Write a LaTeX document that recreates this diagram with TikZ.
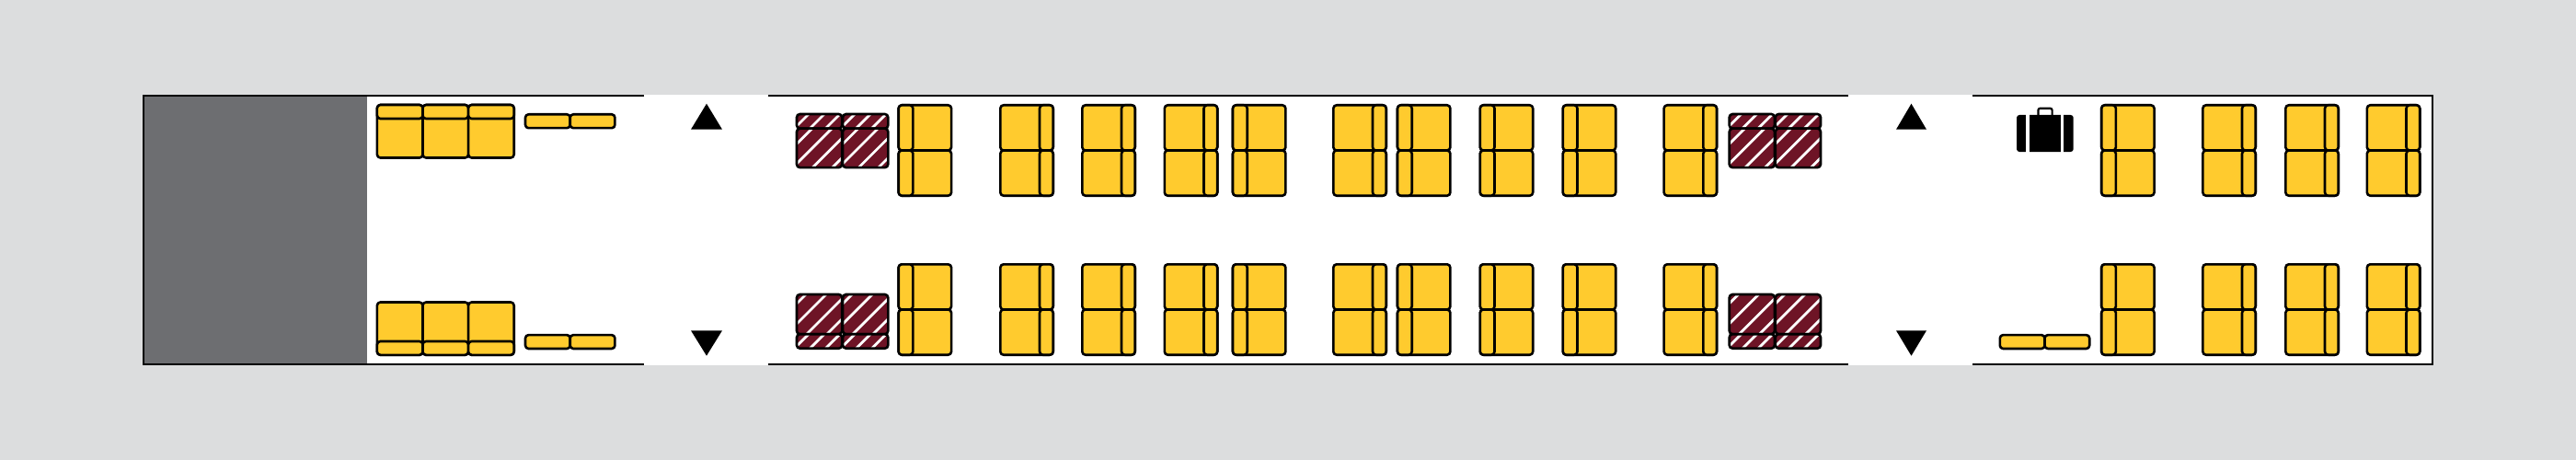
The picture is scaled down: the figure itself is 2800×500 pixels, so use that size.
\documentclass[tikz,border=0pt]{standalone}
\definecolor{bgc}{HTML}{DCDDDE}
\definecolor{galley}{HTML}{6D6E71}
\definecolor{seatc}{HTML}{FFCB2E}
\definecolor{maroon}{HTML}{6E1426}
\tikzset{
  seatcell/.style={draw=black,fill=seatc,line width=2.6pt,rounded corners=3.5pt,line join=round},
  hatchframe/.style={draw=black,line width=2.6pt,rounded corners=3.5pt},
  stripe/.style={white,line width=2.8pt},
  shell/.style={draw=black,line width=2.2pt,line join=miter},
  exitarrow/.style={fill=black}
}
% double seat, backrests at left
\newcommand{\blockL}[2]{%
  \path[seatcell] (#1+1.3,#2+1.3) rectangle (#1+58.7,#2+50.5);
  \path[seatcell] (#1+1.3,#2+1.3) rectangle (#1+17,#2+50.5);
  \path[seatcell] (#1+1.3,#2+50.5) rectangle (#1+58.7,#2+99.7);
  \path[seatcell] (#1+1.3,#2+50.5) rectangle (#1+17,#2+99.7);
}
% double seat, backrests at right
\newcommand{\blockR}[2]{%
  \path[seatcell] (#1+1.3,#2+1.3) rectangle (#1+58.7,#2+50.5);
  \path[seatcell] (#1+44,#2+1.3) rectangle (#1+58.7,#2+50.5);
  \path[seatcell] (#1+1.3,#2+50.5) rectangle (#1+58.7,#2+99.7);
  \path[seatcell] (#1+44,#2+50.5) rectangle (#1+58.7,#2+99.7);
}
% single hatched rectangle: x1,y1,x2,y2,phase,spacing
\newcommand{\hcell}[6]{%
  \pgfmathsetmacro{\xa}{#1}\pgfmathsetmacro{\ya}{#2}%
  \pgfmathsetmacro{\xb}{#3}\pgfmathsetmacro{\yb}{#4}%
  \begin{scope}
    \clip[rounded corners=3.5pt] (\xa,\ya) rectangle (\xb,\yb);
    \fill[maroon] (\xa,\ya) rectangle (\xb,\yb);
    \foreach \k in {0,...,6}{
      \pgfmathsetmacro{\cc}{\xa+\ya+#5+#6*\k}
      \draw[stripe] ({\cc-\yb},\yb) -- ({\cc-\ya},\ya);
    }
  \end{scope}
  \path[hatchframe] (\xa,\ya) rectangle (\xb,\yb);
}
% hatched pair, strip on top / on bottom
\newcommand{\hpairT}[2]{%
  \foreach \o in {0,50.1}{
    \hcell{#1+1.3+\o}{#2+1.3}{#1+50.5+\o}{#2+17}{13}{17}
    \hcell{#1+1.3+\o}{#2+17}{#1+50.5+\o}{#2+59.4}{16.7}{21.5}
  }
}
\newcommand{\hpairB}[2]{%
  \foreach \o in {0,50.1}{
    \hcell{#1+1.3+\o}{#2+1.3}{#1+50.5+\o}{#2+44.5}{10}{22}
    \hcell{#1+1.3+\o}{#2+44.5}{#1+50.5+\o}{#2+60}{13}{17}
  }
}
% small leg pair
\newcommand{\legs}[2]{%
  \path[seatcell] (#1+1.3,#2+1.3) rectangle (#1+50,#2+16.2);
  \path[seatcell] (#1+50,#2+1.3) rectangle (#1+98.7,#2+16.2);
}
\begin{document}
\begin{tikzpicture}[x=1pt,y=-1pt]
\useasboundingbox (0,0) rectangle (2800,500);
\fill[bgc] (0,0) rectangle (2800,500);
\fill[white] (156,104) rectangle (2644,396);
\fill[white] (700,102.7) rectangle (835,396.9);
\fill[white] (2009,102.7) rectangle (2144,396.9);
\fill[galley] (156,104) rectangle (399,396);
% shell
\coordinate (a1) at (700,104); \coordinate (a2) at (156,104);
\coordinate (a3) at (156,396); \coordinate (a4) at (700,396);
\coordinate (b1) at (835,104); \coordinate (b2) at (2009,104);
\coordinate (b3) at (835,396); \coordinate (b4) at (2009,396);
\coordinate (c1) at (2144,104); \coordinate (c2) at (2644,104);
\coordinate (c3) at (2644,396); \coordinate (c4) at (2144,396);
\draw[shell] (a1) -- (a2) -- (a3) -- (a4);
\draw[shell] (b1) -- (b2);
\draw[shell] (b3) -- (b4);
\draw[shell] (c1) -- (c2) -- (c3) -- (c4);
% exit arrows
\fill[exitarrow] (768,112.7) -- (785,140.7) -- (751,140.7) -- cycle;
\fill[exitarrow] (768,386.7) -- (785,359.3) -- (751,359.3) -- cycle;
\fill[exitarrow] (2077.5,112.7) -- (2094,140.7) -- (2061,140.7) -- cycle;
\fill[exitarrow] (2077.5,386.7) -- (2094,359.3) -- (2061,359.3) -- cycle;
% front bench seats
\foreach \x in {409.9,459.5,509.1}{
  \path[seatcell] (\x,114) rectangle (\x+49.6,171.5);
  \path[seatcell] (\x,114) rectangle (\x+49.6,129);
  \path[seatcell] (\x,328.5) rectangle (\x+49.6,385.8);
  \path[seatcell] (\x,371) rectangle (\x+49.6,385.8);
}
\legs{569.7}{123}
\legs{569.7}{362.8}
\legs{2172.5}{362.8}
% hatched seats
\hpairT{864.7}{122.7}
\hpairB{864.7}{318.7}
\hpairT{1878.4}{122.7}
\hpairB{1878.4}{318.7}
% double seats
\foreach \x in {975.4,1338.7,1517.7,1607.5,1697.5,2282.9}{
  \blockL{\x}{113}
  \blockL{\x}{286}
}
\foreach \x in {1086,1175,1264.5,1448,1807.3,2393,2483,2571.5}{
  \blockR{\x}{113}
  \blockR{\x}{286}
}
% luggage
\draw[black,line width=2.2pt,rounded corners=2pt] (2215.4,126) -- (2215.4,117.8) -- (2230.6,117.8) -- (2230.6,126);
\fill[black,rounded corners=3pt] (2192,125) rectangle (2253.7,165);
\fill[white] (2202.3,124) rectangle (2206,166);
\fill[white] (2240,124) rectangle (2243.3,166);
\end{tikzpicture}
\end{document}
